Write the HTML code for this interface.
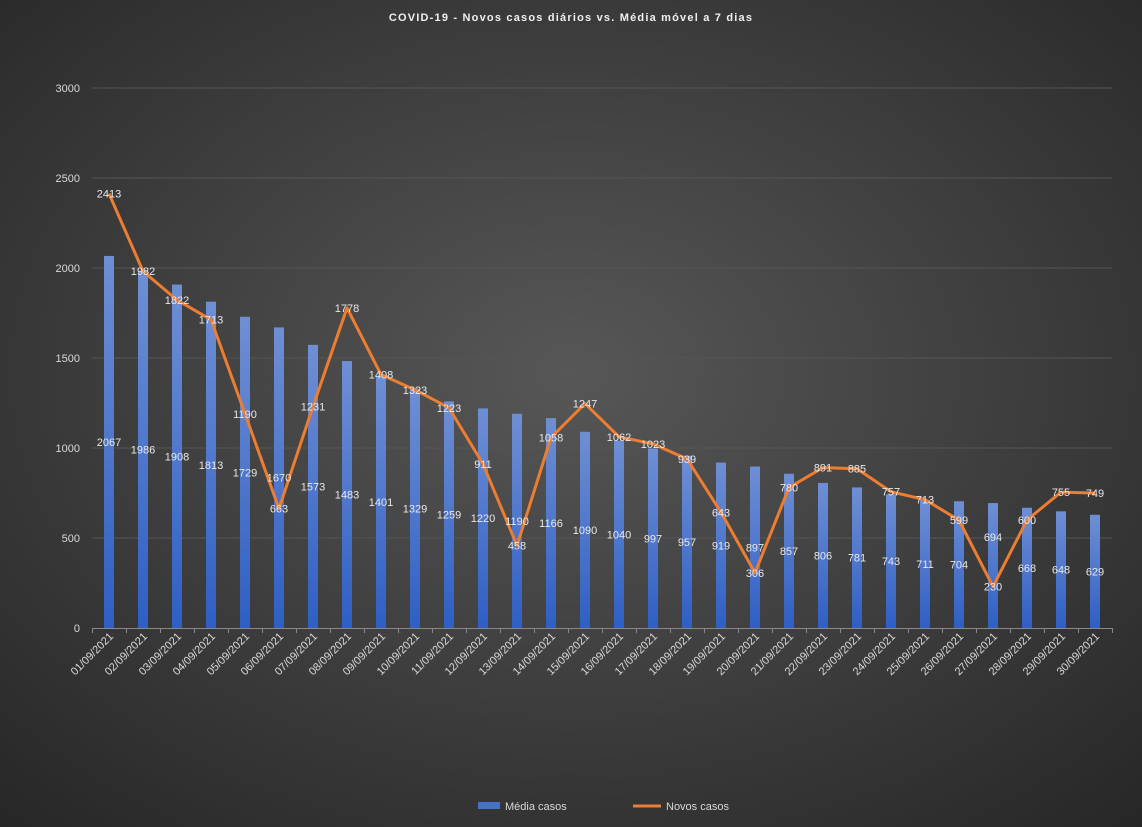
<!DOCTYPE html><html><head><meta charset="utf-8"><style>
html,body{margin:0;padding:0;width:1142px;height:827px;overflow:hidden;background:#333}
svg{display:block;font-family:"Liberation Sans",Arial,sans-serif}
</style></head><body>
<svg id="c" width="1142" height="827" xmlns="http://www.w3.org/2000/svg">
<defs>
<radialGradient id="bg" cx="50%" cy="45%" r="75%">
<stop offset="0" stop-color="#575757"/><stop offset="1" stop-color="#262626"/></radialGradient>
<linearGradient id="bar" x1="0" y1="0" x2="0" y2="1">
<stop offset="0" stop-color="#6f8fd4"/><stop offset="1" stop-color="#2f5fc4"/></linearGradient>
</defs>
<rect width="1142" height="827" fill="url(#bg)"/>
<text x="571" y="21" text-anchor="middle" fill="#f0f0f0" font-size="11" font-weight="bold" letter-spacing="1.2">COVID-19  - Novos casos diários  vs. Média  móvel  a 7 dias</text>
<g id="g"></g>
</svg>
<script>
var bars=[2067,1986,1908,1813,1729,1670,1573,1483,1401,1329,1259,1220,1190,1166,1090,1040,997,957,919,897,857,806,781,743,711,704,694,668,648,629];
var line=[2413,1982,1822,1713,1190,663,1231,1778,1408,1323,1223,911,458,1058,1247,1062,1023,939,643,306,780,891,885,757,713,599,230,600,755,749];
var s='';function Y(v){return 628-v*0.18}
for(var k=0;k<=3000;k+=500){var y=Y(k);if(k>0)s+='<line x1="92" x2="1112" y1="'+y+'" y2="'+y+'" stroke="#555" stroke-width="1"/>';
s+='<text x="80" y="'+(y+4)+'" text-anchor="end" fill="#d9d9d9" font-size="11">'+k+'</text>';}
s+='<line x1="92" x2="1112" y1="628.5" y2="628.5" stroke="#888"/>';
for(var i=0;i<=30;i++){var x=92+34*i+.5;s+='<line x1="'+x+'" x2="'+x+'" y1="628" y2="633" stroke="#888"/>';}
var pts=[];
for(var i=0;i<30;i++){var cx=109+34*i;var t=Y(bars[i]);
s+='<rect x="'+(cx-5)+'" y="'+t+'" width="10" height="'+(628-t)+'" fill="url(#bar)"/>';
pts.push(cx+','+Y(line[i]));
var d=(i+1<10?'0':'')+(i+1)+'/09/2021';
s+='<text transform="translate('+(cx+5)+',637) rotate(-45)" text-anchor="end" fill="#d9d9d9" font-size="11">'+d+'</text>';}
s+='<polyline points="'+pts.join(' ')+'" fill="none" stroke="#ED7D31" stroke-width="3" stroke-linejoin="round"/>';
for(var i=0;i<30;i++){var cx=109+34*i;var by=(Y(bars[i])+628)/2;if(i==26)by=537;
s+='<text x="'+cx+'" y="'+(by+4)+'" text-anchor="middle" fill="#e8e8e8" font-size="11">'+bars[i]+'</text>';
s+='<text x="'+cx+'" y="'+(Y(line[i])+4)+'" text-anchor="middle" fill="#e8e8e8" font-size="11">'+line[i]+'</text>';}
s+='<rect x="478" y="802" width="22" height="7" fill="#4472C4"/><text x="505" y="810" fill="#d9d9d9" font-size="11">Média casos</text>';
s+='<line x1="633" x2="661" y1="806" y2="806" stroke="#ED7D31" stroke-width="3"/><text x="666" y="810" fill="#d9d9d9" font-size="11">Novos casos</text>';
document.getElementById('g').innerHTML=s;
</script>
</body></html>
